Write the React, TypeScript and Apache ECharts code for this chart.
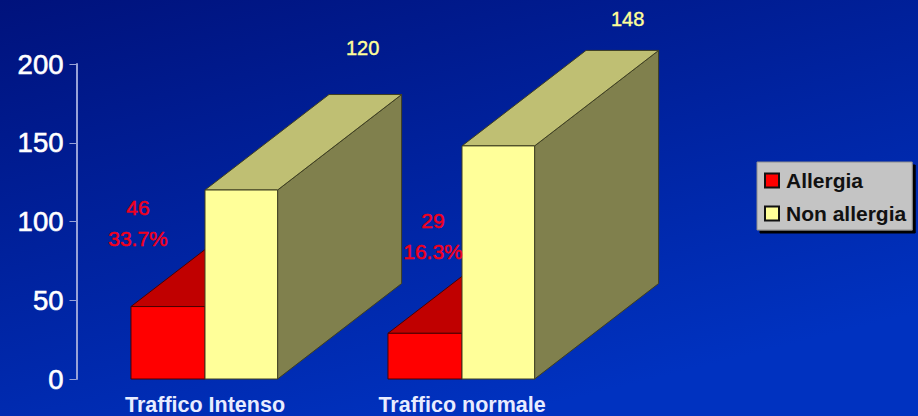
import React, { useEffect, useRef } from "react";
import * as echarts from "echarts";

const categories = ["Traffico Intenso", "Traffico normale"];
const allergia = [46, 29];
const nonAllergia = [120, 148];
const allergiaShare = ["33.7%", "16.3%"];
const tickValues = [0, 50, 100, 150, 200];

// Pixel nudges of the value labels relative to each column's front-top outer corner.
const allergiaLabelNudge = [[7, -84], [45, -97]];
const nonAllergiaLabelNudge = [[85, -142], [93, -127]];

const FONT = "'Liberation Sans', Arial, sans-serif";
const RED_BAR_SHARE = 0.288;    // red column face width, as a share of the category band
const CREAM_BAR_SHARE = 0.2825; // cream column face width, same unit
const DEPTH_SHARE = 0.4825;     // horizontal depth of the extrusion, same unit
const DEPTH_SLOPE = 0.77;       // rise of the extrusion per horizontal pixel

type Palette = { face: string; top: string; side: string; edge: string };

const RED: Palette = { face: "#ff0000", top: "#c00000", side: "#800000", edge: "#4a0000" };
const CREAM: Palette = { face: "#ffff99", top: "#bfbf73", side: "#80804d", edge: "#3f3f20" };

// Builds an extruded column; `side` is -1 for the left column of a pair and 0 for the right one.
function columnRenderer(side: number, share: number, palette: Palette, labelFor: (i: number) => any) {
  return (params: any, api: any) => {
    const i = api.value(0);
    const [cx, yTop] = api.coord([i, api.value(1)]);
    const [, yBase] = api.coord([i, 0]);
    const band = api.size([1, 0])[0];
    const w = band * share;
    const dx = band * DEPTH_SHARE;
    const dy = dx * DEPTH_SLOPE;
    const x0 = cx + side * w;
    const x1 = x0 + w;
    const lineStyle = { stroke: palette.edge, lineWidth: 1 };
    const poly = (points: number[][], fill: string) => ({
      type: "polygon",
      shape: { points },
      style: { fill, ...lineStyle },
    });
    const label = labelFor(i);
    return {
      type: "group",
      children: [
        poly([[x1, yTop], [x1 + dx, yTop - dy], [x1 + dx, yBase - dy], [x1, yBase]], palette.side),
        poly([[x0, yTop], [x0 + dx, yTop - dy], [x1 + dx, yTop - dy], [x1, yTop]], palette.top),
        poly([[x0, yTop], [x1, yTop], [x1, yBase], [x0, yBase]], palette.face),
        {
          ...label,
          z2: 50,
          x: (side < 0 ? x0 : x1) + label.nudge[0],
          y: yTop + label.nudge[1],
        },
      ],
    };
  };
}

export default function App() {
  const ref = useRef<HTMLDivElement>(null);

  useEffect(() => {
    document.body.style.margin = "0";
    const chart = echarts.init(ref.current!, null, { renderer: "svg" });
    chart.setOption({
      animation: false,
      backgroundColor: new echarts.graphic.LinearGradient(0, 0, 0.55, 1, [
        { offset: 0, color: "#00127c" },
        { offset: 1, color: "#0032c0" },
      ]),
      grid: { left: 76.5, top: 64, width: 514, height: 315 },
      legend: {
        orient: "vertical",
        left: 757,
        top: 162,
        padding: [8, 6, 6, 7],
        itemGap: 12,
        itemWidth: 14,
        itemHeight: 14,
        icon: "rect",
        backgroundColor: "#c4c4c4",
        borderColor: "#8d8d8d",
        borderWidth: 1,
        shadowColor: "#000000",
        shadowBlur: 0,
        shadowOffsetX: 3,
        shadowOffsetY: 3,
        textStyle: { color: "#111111", fontFamily: FONT, fontWeight: "bold", fontSize: 21, padding: [0, 0, 0, 2] },
        data: ["Allergia", "Non allergia"],
      },
      xAxis: {
        type: "category",
        data: categories,
        axisLine: { show: false },
        axisTick: { show: false },
        axisLabel: { color: "#e8ecff", fontFamily: FONT, fontWeight: "bold", fontSize: 21.5, margin: 15 },
      },
      yAxis: {
        type: "value",
        min: 0,
        max: 200,
        interval: tickValues[1] - tickValues[0],
        splitLine: { show: false },
        axisLine: { show: true, lineStyle: { color: "#98a2d8", width: 2 } },
        axisTick: { show: true, length: 7, lineStyle: { color: "#98a2d8", width: 1 } },
        axisLabel: {
          color: "#ffffff",
          fontFamily: FONT,
          fontSize: 27.5,
          margin: 13,
          textBorderColor: "#ffffff",
          textBorderWidth: 0.6,
        },
      },
      series: [
        {
          name: "Allergia",
          type: "custom",
          clip: false,
          itemStyle: { color: RED.face, borderColor: "#111111", borderWidth: 1 },
          data: allergia.map((v, i) => [i, v]),
          encode: { x: 0, y: 1 },
          renderItem: columnRenderer(-1, RED_BAR_SHARE, RED, (i) => ({
            type: "text",
            nudge: allergiaLabelNudge[i],
            style: {
              text: `${allergia[i]}\n${allergiaShare[i]}`,
              fill: "#f0001c",
              stroke: "#f0001c",
              lineWidth: 0.5,
              font: `21px ${FONT}`,
              align: "center",
              verticalAlign: "middle",
              lineHeight: 31,
            },
          })),
        },
        {
          name: "Non allergia",
          type: "custom",
          clip: false,
          itemStyle: { color: CREAM.face, borderColor: "#111111", borderWidth: 1 },
          data: nonAllergia.map((v, i) => [i, v]),
          encode: { x: 0, y: 1 },
          renderItem: columnRenderer(0, CREAM_BAR_SHARE, CREAM, (i) => ({
            type: "text",
            nudge: nonAllergiaLabelNudge[i],
            style: {
              text: String(nonAllergia[i]),
              fill: "#ffff99",
              font: `20px ${FONT}`,
              stroke: "#ffff99",
              lineWidth: 0.4,
              align: "center",
              verticalAlign: "middle",
            },
          })),
        },
      ],
    });
    return () => chart.dispose();
  }, []);

  return <div ref={ref} style={{ width: 918, height: 416 }} />;
}
